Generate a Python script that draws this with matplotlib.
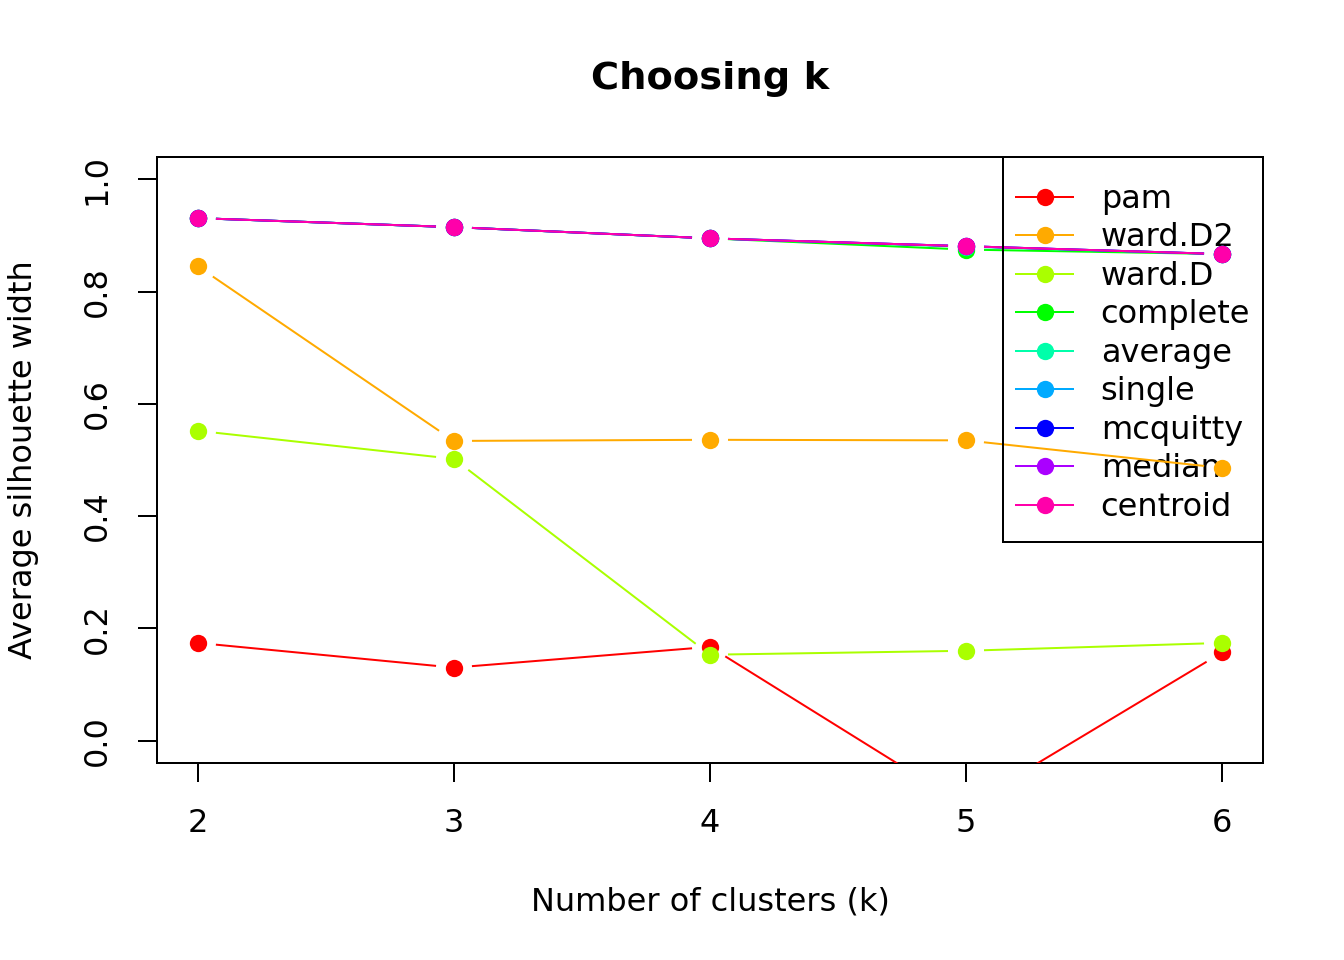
import numpy as np
import matplotlib.pyplot as plt
from matplotlib.lines import Line2D
from matplotlib.patches import Rectangle

k = [2, 3, 4, 5, 6]
methods = ['pam', 'ward.D2', 'ward.D', 'complete', 'average',
           'single', 'mcquitty', 'median', 'centroid']
colors = ['#FF0000', '#FFAA00', '#AAFF00', '#00FF00', '#00FFAA',
          '#00AAFF', '#0000FF', '#AA00FF', '#FF00AA']

pam = [0.174, 0.130, 0.167, -0.117, 0.157]
ward_d2 = [0.845, 0.534, 0.536, 0.535, 0.486]
ward_d = [0.552, 0.502, 0.153, 0.160, 0.174]
complete = [0.931, 0.915, 0.895, 0.875, 0.867]
average = [0.931, 0.915, 0.895, 0.880, 0.867]
single = [0.931, 0.915, 0.895, 0.881, 0.867]
mcquitty = [0.931, 0.915, 0.895, 0.881, 0.867]
median = [0.931, 0.915, 0.895, 0.881, 0.867]
centroid = [0.931, 0.915, 0.895, 0.881, 0.867]
series = [pam, ward_d2, ward_d, complete, average, single, mcquitty, median, centroid]

plt.rcParams['font.family'] = 'DejaVu Sans'
fig = plt.figure(figsize=(7, 5), dpi=192)
ax = fig.add_axes([157/1344, 1-763/960, (1263-157)/1344, (763-157)/960])
ax.set_xlim(1.84, 6.16)
ax.set_ylim(-0.04, 1.04)
fig.canvas.draw()

gap = 18  # px gap around points, like R type="b"
for i, (name, vals, c) in enumerate(zip(methods, series, colors)):
    pts = ax.transData.transform(np.column_stack([k, vals]))
    for j in range(len(k) - 1):
        p0, p1 = pts[j], pts[j+1]
        d = p1 - p0
        L = np.hypot(*d)
        if L <= 2 * gap:
            continue
        u = d / L
        seg = ax.transData.inverted().transform([p0 + u*gap, p1 - u*gap])
        ax.plot(seg[:, 0], seg[:, 1], color=c, lw=0.75, zorder=3+2*i,
                solid_capstyle='butt')
    ax.plot(k, vals, 'o', color=c, ms=6.5, mew=0, zorder=4+2*i)

for s in ax.spines.values():
    s.set_linewidth(0.75)
ax.set_xticks(k)
ax.set_yticks([0.0, 0.2, 0.4, 0.6, 0.8, 1.0])
ax.set_yticklabels(['0.0', '0.2', '0.4', '0.6', '0.8', '1.0'], rotation=90, va='center')
ax.tick_params(length=7.2, width=0.75, labelsize=12, pad=9.5)
ax.set_xlabel('Number of clusters (k)', fontsize=12, labelpad=18)
ax.set_ylabel('Average silhouette width', fontsize=12, labelpad=16)
fig.text(710/1344, 1-79/960, 'Choosing k', fontsize=14.4, fontweight='bold',
         ha='center', va='center')

# legend, framed by hand so the vertical padding can differ from horizontal
vpad = 14  # extra px above the entries
handles = [Line2D([], [], color=c, lw=0.75, marker='o', ms=6.5, mew=0) for c in colors]
leg = ax.legend(handles, methods, loc='upper right', fontsize=12, frameon=False,
                bbox_to_anchor=(1, 1 - vpad/ax.bbox.height), borderaxespad=0,
                handlelength=1.8, handletextpad=0.85, labelspacing=0.235,
                borderpad=0.4)
leg.set_zorder(1)
fig.canvas.draw()
ext = leg.get_window_extent()
axb = ax.bbox
inv = fig.transFigure.inverted()
(x0, y0) = inv.transform((ext.x0, ext.y0 - 6))
(x1, y1) = inv.transform((axb.x1, axb.y1))
fig.patches.append(Rectangle((x0, y0), x1-x0, y1-y0, transform=fig.transFigure,
                             fill=False, edgecolor='black', lw=0.75, zorder=2))

fig.savefig('out.png', dpi=192)
